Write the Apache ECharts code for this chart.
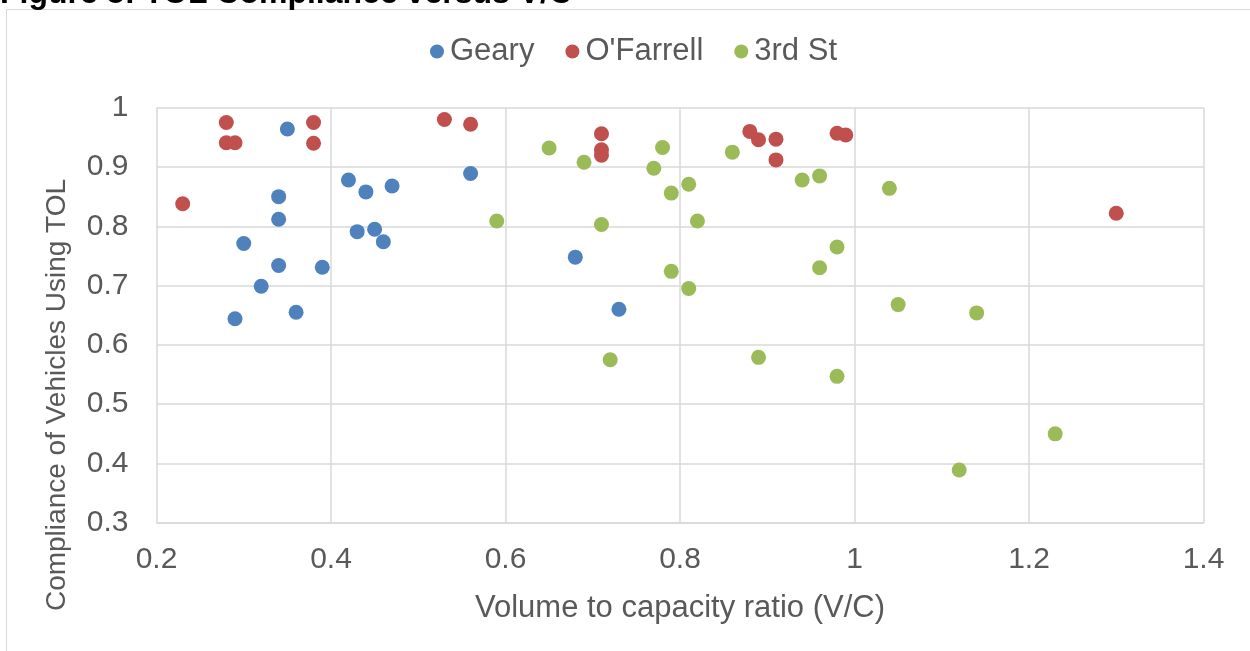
<!DOCTYPE html>
<html>
<head>
<meta charset="utf-8">
<script src="https://cdn.jsdelivr.net/npm/echarts@6/dist/echarts.min.js"></script>
<style>
  html, body { margin: 0; padding: 0; background: #fff; }
  #chart { width: 1250px; height: 651px; }
</style>
</head>
<body>
<div id="chart"></div>
<script>
// values
const seriesNames = ['Geary', "O'Farrell", '3rd St'];

const gearyVC = [0.35, 0.34, 0.34, 0.30, 0.34, 0.39, 0.32, 0.36, 0.29, 0.42, 0.44, 0.47, 0.43, 0.45, 0.46, 0.56, 0.68, 0.73];
const gearyTOL = [0.964, 0.850, 0.812, 0.771, 0.734, 0.731, 0.699, 0.655, 0.644, 0.878, 0.858, 0.868, 0.791, 0.795, 0.774, 0.889, 0.748, 0.660];

const ofarrellVC = [0.23, 0.28, 0.28, 0.29, 0.38, 0.38, 0.53, 0.56, 0.71, 0.71, 0.71, 0.88, 0.89, 0.91, 0.91, 0.98, 0.99, 1.30];
const ofarrellTOL = [0.838, 0.975, 0.941, 0.941, 0.975, 0.940, 0.980, 0.972, 0.956, 0.929, 0.920, 0.960, 0.946, 0.947, 0.912, 0.957, 0.954, 0.822];

const thirdVC = [0.59, 0.65, 0.69, 0.71, 0.72, 0.77, 0.78, 0.79, 0.79, 0.81, 0.81, 0.82, 0.86, 0.89, 0.94, 0.96, 0.96, 0.98, 0.98, 1.04, 1.05, 1.12, 1.14, 1.23];
const thirdTOL = [0.809, 0.932, 0.908, 0.803, 0.575, 0.898, 0.933, 0.856, 0.724, 0.871, 0.695, 0.809, 0.925, 0.579, 0.878, 0.885, 0.730, 0.765, 0.547, 0.864, 0.668, 0.389, 0.654, 0.450];

const colors = ['#4f81bd', '#c0504d', '#9bbb59'];

const FONT = "'Liberation Sans', Arial, sans-serif";
const GRAY = '#595959';
const LINE = '#d9d9d9';

const zip = (xs, ys) => xs.map((x, i) => [x, ys[i]]);
const pointSets = [zip(gearyVC, gearyTOL), zip(ofarrellVC, ofarrellTOL), zip(thirdVC, thirdTOL)];

const chart = echarts.init(document.getElementById('chart'));

chart.setOption({
  animation: false,
  backgroundColor: '#fff',
  textStyle: { fontFamily: FONT },
  graphic: [
    {
      type: 'rect', silent: true, z: -1,
      shape: { x: 6.5, y: 9.5, width: 1400, height: 800 },
      style: { fill: 'none', stroke: LINE, lineWidth: 1 }
    },
    {
      type: 'text', silent: true,
      x: 0, y: 10,
      style: {
        text: 'Figure 5: TOL Compliance versus V/C',
        font: 'bold 32px ' + FONT,
        fill: '#000',
        textVerticalAlign: 'bottom', verticalAlign: 'bottom'
      }
    },
    {
      type: 'text', silent: true,
      x: 57, y: 395, rotation: Math.PI / 2,
      style: {
        text: 'Compliance of Vehicles Using TOL',
        font: '28px ' + FONT,
        fill: GRAY,
        align: 'center', textAlign: 'center',
        verticalAlign: 'middle', textVerticalAlign: 'middle'
      }
    }
  ],
  legend: {
    data: seriesNames,
    left: 425,
    top: 31,
    icon: 'circle',
    itemWidth: 14,
    itemHeight: 14,
    itemGap: 31,
    textStyle: { color: GRAY, fontSize: 31, fontFamily: FONT, padding: [0, 0, 0, 1] }
  },
  grid: { left: 156.5, right: 46.5, top: 107.7, bottom: 128.2, containLabel: false },
  xAxis: {
    type: 'value',
    min: 0.2, max: 1.4, interval: 0.2,
    name: 'Volume to capacity ratio (V/C)',
    nameLocation: 'middle',
    nameGap: 70,
    nameTextStyle: { color: GRAY, fontSize: 31, fontFamily: FONT },
    axisLine: { show: true, lineStyle: { color: LINE, width: 1.5 } },
    axisTick: { show: false },
    axisLabel: { color: GRAY, fontSize: 30, fontFamily: FONT, margin: 22 },
    splitLine: { show: true, lineStyle: { color: LINE, width: 1.5 } }
  },
  yAxis: {
    type: 'value',
    min: 0.3, max: 1, interval: 0.1,
    axisLine: { show: false },
    axisTick: { show: false },
    axisLabel: {
      color: GRAY, fontSize: 30, fontFamily: FONT, margin: 28,
      formatter: v => String(Math.round(v * 10) / 10)
    },
    splitLine: { show: true, lineStyle: { color: LINE, width: 1.5 } }
  },
  series: seriesNames.map((name, i) => ({
    name,
    type: 'scatter',
    data: pointSets[i],
    symbol: 'circle',
    symbolSize: 15,
    itemStyle: { color: colors[i], opacity: 1 }
  }))
});
</script>
</body>
</html>
